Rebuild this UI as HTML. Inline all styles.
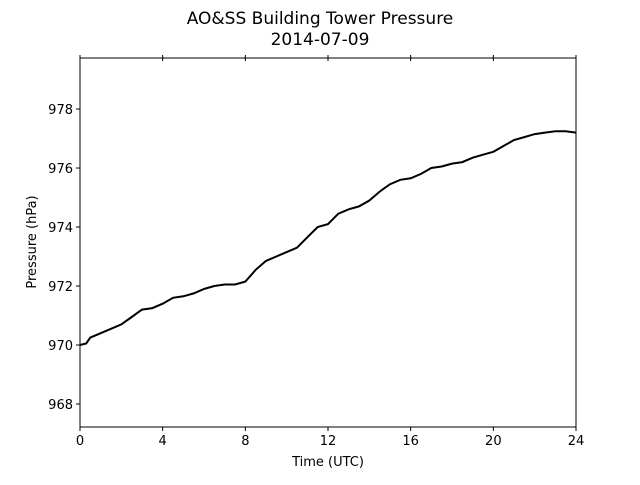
<!DOCTYPE html>
<html><head><meta charset="utf-8"><style>
body{margin:0;background:#fff;}
svg text{font-family:"DejaVu Sans","Liberation Sans",sans-serif;fill:#000;}
</style></head><body>
<svg id="chart" width="640" height="480">
<text x="320" y="24" font-size="17" text-anchor="middle">AO&amp;SS Building Tower Pressure</text>
<text x="320" y="45" font-size="17" text-anchor="middle">2014-07-09</text>
<g id="axes"></g>
<text x="328" y="466" font-size="13" text-anchor="middle">Time (UTC)</text>
<text transform="translate(36,242) rotate(-90)" font-size="13" text-anchor="middle">Pressure (hPa)</text>
</svg>
<script>
const hours=[0,0.3,0.5,1,1.5,2,2.5,3,3.5,4,4.5,5,5.5,6,6.5,7,7.5,8,8.5,9,9.5,10,10.5,11,11.5,12,12.5,13,13.5,14,14.5,15,15.5,16,16.5,17,17.5,18,18.5,19,19.5,20,20.5,21,21.5,22,22.5,23,23.5,24];
const pressure=[970.0,970.05,970.25,970.4,970.55,970.7,970.95,971.2,971.25,971.4,971.6,971.65,971.75,971.9,972.0,972.05,972.05,972.15,972.55,972.85,973.0,973.15,973.3,973.65,974.0,974.1,974.45,974.6,974.7,974.9,975.2,975.45,975.6,975.65,975.8,976.0,976.05,976.15,976.2,976.35,976.45,976.55,976.75,976.95,977.05,977.15,977.2,977.25,977.25,977.2];
const xTicks=[0,4,8,12,16,20,24];
const yTicks=[968,970,972,974,976,978];
const L=80,R=576,T=58,B=427,xMin=0,xMax=24,yMin=967.22,yMax=979.73;
const sx=v=>L+(v-xMin)/(xMax-xMin)*(R-L);
const sy=v=>B-(v-yMin)/(yMax-yMin)*(B-T);
const NS='http://www.w3.org/2000/svg';
const g=document.getElementById('axes');
function mk(t,a){const e=document.createElementNS(NS,t);for(const k in a)e.setAttribute(k,a[k]);g.appendChild(e);return e;}
const line=mk('path',{d:hours.map((h,i)=>(i?'L':'M')+sx(h).toFixed(1)+','+sy(pressure[i]).toFixed(1)).join(''),fill:'none',stroke:'#000','stroke-width':2});


const frame=mk('rect',{x:L,y:T,width:R-L,height:B-T,fill:'none',stroke:'#000','stroke-width':1});


xTicks.forEach(v=>{
 const x=sx(v);
 const t1=mk('line',{x1:x,x2:x,y1:B,y2:B+4,stroke:'#000'});
 
 
 const t2=mk('line',{x1:x,x2:x,y1:T-3,y2:T+3,stroke:'#000'});
 
 
 const lb=mk('text',{x:x,y:B+18,'font-size':13,'text-anchor':'middle'});lb.textContent=v;
 
 
});
yTicks.forEach(v=>{
 const y=sy(v);
 const t=mk('line',{x1:L-4,x2:L,y1:y,y2:y,stroke:'#000'});
 
 
 const lb=mk('text',{x:L-7,y:y+5,'font-size':13,'text-anchor':'end'});lb.textContent=v;
 
 
});
</script>
</body></html>
